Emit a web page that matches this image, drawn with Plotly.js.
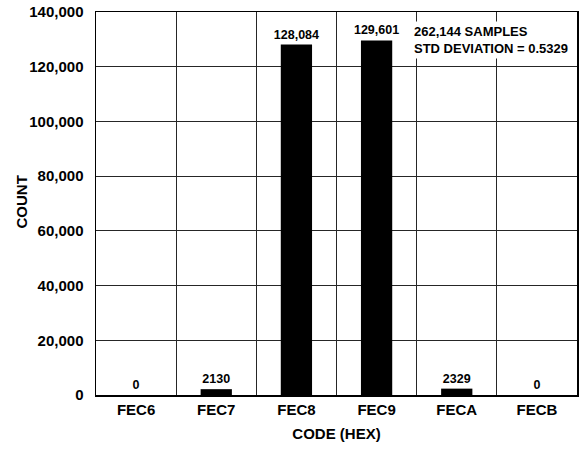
<!DOCTYPE html>
<html>
<head>
<meta charset="utf-8">
<script src="https://cdn.plot.ly/plotly-3.0.1.min.js"></script>
<style>html,body{margin:0;padding:0;background:#fff;}#chart{width:587px;height:456px;}</style>
</head>
<body>
<div id="chart"></div>
<script>
const codes = ['FEC6', 'FEC7', 'FEC8', 'FEC9', 'FECA', 'FECB'];
const counts = [0, 2130, 128084, 129601, 2329, 0];
const countLabels = ['0', '2130', '128,084', '129,601', '2329', '0'];
const noteLines = ['262,144 SAMPLES', 'STD DEVIATION = 0.5329'];
const yTicks = [0, 20000, 40000, 60000, 80000, 100000, 120000, 140000];
const yTitle = 'COUNT';
const xTitle = 'CODE (HEX)';

const FONT = 'Liberation Sans, Arial, Helvetica, sans-serif';

const trace = {
  type: 'bar',
  x: codes,
  y: counts,
  width: 0.39,
  marker: {color: '#000000', line: {width: 0}},
  text: countLabels,
  textposition: 'outside',
  constraintext: 'none',
  cliponaxis: false,
  textfont: {family: FONT, size: 12.5, weight: 'bold', color: '#000'},
  hoverinfo: 'none'
};

const layout = {
  width: 587,
  height: 456,
  margin: {l: 96, r: 10, t: 12, b: 61},
  paper_bgcolor: '#ffffff',
  plot_bgcolor: '#ffffff',
  showlegend: false,
  font: {family: FONT, color: '#000'},
  xaxis: {
    type: 'category',
    range: [-0.5, 5.5],
    tickson: 'boundaries',
    ticks: '',
    showgrid: true,
    gridcolor: '#262626',
    gridwidth: 1.1,
    showline: true,
    mirror: true,
    linecolor: '#000',
    linewidth: 1.5,
    tickfont: {family: FONT, size: 15, weight: 'bold', color: '#000'},
    title: {text: xTitle, font: {family: FONT, size: 15, weight: 'bold', color: '#000'}, standoff: 12},
    fixedrange: true
  },
  yaxis: {
    range: [0, 140000],
    tickvals: yTicks,
    tickformat: ',d',
    ticks: '',
    ticklabelstandoff: 8,
    showgrid: true,
    gridcolor: '#262626',
    gridwidth: 1.1,
    zeroline: false,
    showline: true,
    mirror: true,
    linecolor: '#000',
    linewidth: 1.5,
    tickfont: {family: FONT, size: 15, weight: 'bold', color: '#000'},
    fixedrange: true
  },
  annotations: [{
    xref: 'paper', yref: 'paper',
    x: 0.655, y: 0.928,
    xanchor: 'left', yanchor: 'middle',
    text: noteLines.join('<br>'),
    align: 'left',
    showarrow: false,
    bgcolor: '#ffffff',
    borderpad: 2,
    font: {family: FONT, size: 13, weight: 'bold', color: '#000'}
  }, {
    xref: 'paper', yref: 'paper',
    x: -0.154, y: 0.505,
    xanchor: 'center', yanchor: 'middle',
    text: yTitle,
    textangle: -90,
    showarrow: false,
    font: {family: FONT, size: 15, weight: 'bold', color: '#000'}
  }]
};

Plotly.newPlot('chart', [trace], layout, {displayModeBar: false, staticPlot: true});
</script>
</body>
</html>
